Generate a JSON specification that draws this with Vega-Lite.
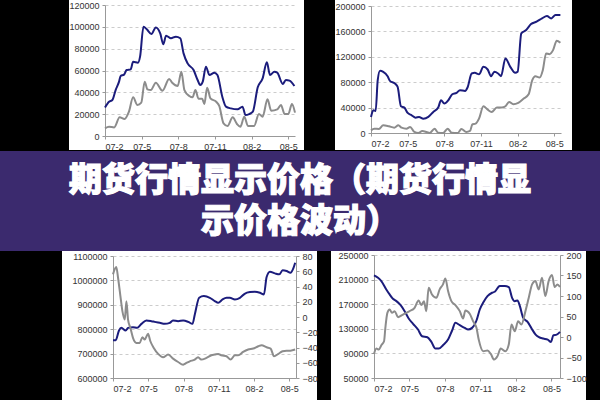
{
  "$schema": "https://vega.github.io/schema/vega-lite/v6.json",
  "background": "black",
  "padding": 0,
  "spacing": 0,
  "config": {
    "view": {"stroke": null},
    "axis": {"labelFont": "Liberation Sans", "labelFontSize": 9, "labelColor": "#333333", "domainColor": "#999999", "tickColor": "#999999", "tickSize": 3, "labelPadding": 3, "title": null, "gridColor": "#cccccc", "gridDash": [3, 3]},
    "line": {"interpolate": "monotone", "strokeWidth": 2}
  },
  "vconcat": [
    {
      "spacing": 0,
      "hconcat": [
        {"width": 68, "height": 150, "data": {"values": []}, "mark": "point", "encoding": {}},
        {
          "width": 235, "height": 150,
          "view": {"fill": "white", "stroke": null},
          "data": {"values": [
            {"s":"a","t":0,"v":26200},{"s":"a","t":0.33,"v":31400},{"s":"a","t":0.6,"v":33000},{"s":"a","t":0.87,"v":42100},{"s":"a","t":1.15,"v":49800},{"s":"a","t":1.28,"v":55000},{"s":"a","t":1.56,"v":56200},{"s":"a","t":1.77,"v":60400},{"s":"a","t":2.1,"v":61000},{"s":"a","t":2.3,"v":68000},{"s":"a","t":2.7,"v":67200},{"s":"a","t":2.87,"v":72700},{"s":"a","t":3.15,"v":100100},{"s":"a","t":3.42,"v":97700},{"s":"a","t":3.8,"v":93400},{"s":"a","t":4.16,"v":99500},{"s":"a","t":4.52,"v":94000},{"s":"a","t":4.77,"v":84000},{"s":"a","t":5.0,"v":91900},{"s":"a","t":5.4,"v":89500},{"s":"a","t":5.8,"v":91000},{"s":"a","t":6.16,"v":89500},{"s":"a","t":6.43,"v":75700},{"s":"a","t":6.76,"v":66500},{"s":"a","t":7.25,"v":60400},{"s":"a","t":7.58,"v":51300},{"s":"a","t":7.8,"v":46700},{"s":"a","t":8.0,"v":49800},{"s":"a","t":8.26,"v":63500},{"s":"a","t":8.54,"v":55900},{"s":"a","t":8.95,"v":58000},{"s":"a","t":9.2,"v":55900},{"s":"a","t":9.6,"v":36000},{"s":"a","t":9.9,"v":26900},{"s":"a","t":10.3,"v":25300},{"s":"a","t":10.85,"v":24400},{"s":"a","t":11.25,"v":26900},{"s":"a","t":11.5,"v":19200},{"s":"a","t":11.8,"v":20100},{"s":"a","t":12.1,"v":22300},{"s":"a","t":12.5,"v":44600},{"s":"a","t":12.9,"v":52800},{"s":"a","t":13.25,"v":67500},{"s":"a","t":13.5,"v":55900},{"s":"a","t":13.86,"v":58900},{"s":"a","t":14.1,"v":58000},{"s":"a","t":14.55,"v":47600},{"s":"a","t":14.8,"v":51300},{"s":"a","t":15.1,"v":50700},{"s":"a","t":15.5,"v":45800},
            {"s":"b","t":0,"v":7000},{"s":"b","t":0.33,"v":8500},{"s":"b","t":0.75,"v":7900},{"s":"b","t":1.2,"v":17100},{"s":"b","t":1.6,"v":15600},{"s":"b","t":1.96,"v":22300},{"s":"b","t":2.3,"v":35400},{"s":"b","t":2.65,"v":28400},{"s":"b","t":2.97,"v":30500},{"s":"b","t":3.25,"v":49800},{"s":"b","t":3.47,"v":42700},{"s":"b","t":3.75,"v":42100},{"s":"b","t":4.16,"v":48800},{"s":"b","t":4.7,"v":41500},{"s":"b","t":5.25,"v":52200},{"s":"b","t":5.5,"v":48800},{"s":"b","t":5.95,"v":45800},{"s":"b","t":6.25,"v":58900},{"s":"b","t":6.5,"v":42100},{"s":"b","t":6.9,"v":36600},{"s":"b","t":7.16,"v":35400},{"s":"b","t":7.4,"v":42100},{"s":"b","t":7.65,"v":34200},{"s":"b","t":7.95,"v":34200},{"s":"b","t":8.13,"v":29300},{"s":"b","t":8.36,"v":44300},{"s":"b","t":8.63,"v":34500},{"s":"b","t":9.1,"v":31400},{"s":"b","t":9.35,"v":27500},{"s":"b","t":9.7,"v":11600},{"s":"b","t":10.03,"v":9200},{"s":"b","t":10.45,"v":17100},{"s":"b","t":10.8,"v":11000},{"s":"b","t":11.08,"v":8500},{"s":"b","t":11.4,"v":17700},{"s":"b","t":11.7,"v":9200},{"s":"b","t":12.2,"v":9200},{"s":"b","t":12.6,"v":20100},{"s":"b","t":12.9,"v":17700},{"s":"b","t":13.3,"v":33600},{"s":"b","t":13.6,"v":23200},{"s":"b","t":14.1,"v":24400},{"s":"b","t":14.4,"v":28400},{"s":"b","t":14.7,"v":20100},{"s":"b","t":15.0,"v":20100},{"s":"b","t":15.3,"v":29300},{"s":"b","t":15.55,"v":21400}
          ]},
          "mark": {"type": "line"},
          "encoding": {
            "x": {"field": "t", "type": "quantitative", "scale": {"domain": [0, 15.55], "range": [36, 226], "nice": false, "zero": false}, "axis": {"offset": -14, "grid": false, "values": [0, 3, 6, 9, 12, 15], "labelExpr": "['07-2','07-5','07-8','07-11','08-2','08-5'][round(datum.value/3)]"}},
            "y": {"field": "v", "type": "quantitative", "scale": {"domain": [0, 120000], "range": [136, 5], "nice": false}, "axis": {"offset": -36, "grid": true, "format": "d", "values": [0, 20000, 40000, 60000, 80000, 100000, 120000]}},
            "color": {"field": "s", "type": "nominal", "scale": {"domain": ["a", "b"], "range": ["#1b1c7c", "#8c8c8c"]}, "legend": null}
          }
        },
        {"width": 30, "height": 150, "data": {"values": []}, "mark": "point", "encoding": {}},
        {
          "width": 237, "height": 150,
          "view": {"fill": "white", "stroke": null},
          "data": {"values": [
            {"s":"a","t":0,"v":25300},{"s":"a","t":0.19,"v":35800},{"s":"a","t":0.38,"v":34700},{"s":"a","t":0.55,"v":83200},{"s":"a","t":0.74,"v":97900},{"s":"a","t":1.0,"v":96300},{"s":"a","t":1.36,"v":89500},{"s":"a","t":1.55,"v":82100},{"s":"a","t":1.96,"v":77900},{"s":"a","t":2.18,"v":72600},{"s":"a","t":2.45,"v":42100},{"s":"a","t":2.73,"v":40000},{"s":"a","t":3.0,"v":31600},{"s":"a","t":3.33,"v":27900},{"s":"a","t":3.65,"v":24200},{"s":"a","t":3.93,"v":25300},{"s":"a","t":4.28,"v":22600},{"s":"a","t":4.69,"v":25300},{"s":"a","t":5.1,"v":33200},{"s":"a","t":5.5,"v":40000},{"s":"a","t":5.73,"v":51600},{"s":"a","t":6.0,"v":46300},{"s":"a","t":6.33,"v":51600},{"s":"a","t":6.65,"v":61000},{"s":"a","t":7.0,"v":63200},{"s":"a","t":7.28,"v":67400},{"s":"a","t":7.7,"v":66300},{"s":"a","t":7.9,"v":71600},{"s":"a","t":8.24,"v":93700},{"s":"a","t":8.5,"v":94700},{"s":"a","t":8.84,"v":92600},{"s":"a","t":9.2,"v":104200},{"s":"a","t":9.55,"v":100000},{"s":"a","t":9.82,"v":89500},{"s":"a","t":10.1,"v":96300},{"s":"a","t":10.4,"v":93700},{"s":"a","t":10.64,"v":89500},{"s":"a","t":11.0,"v":117400},{"s":"a","t":11.4,"v":104200},{"s":"a","t":11.8,"v":94700},{"s":"a","t":12.0,"v":96300},{"s":"a","t":12.3,"v":156800},{"s":"a","t":12.7,"v":162100},{"s":"a","t":13.1,"v":171600},{"s":"a","t":13.55,"v":175300},{"s":"a","t":14.0,"v":180500},{"s":"a","t":14.4,"v":184200},{"s":"a","t":14.75,"v":180500},{"s":"a","t":15.1,"v":185800},{"s":"a","t":15.5,"v":185800},
            {"s":"b","t":0,"v":4200},{"s":"b","t":0.27,"v":6800},{"s":"b","t":0.65,"v":6300},{"s":"b","t":1.0,"v":12100},{"s":"b","t":1.47,"v":10500},{"s":"b","t":1.9,"v":8400},{"s":"b","t":2.24,"v":12100},{"s":"b","t":2.5,"v":8400},{"s":"b","t":2.9,"v":6800},{"s":"b","t":3.2,"v":9500},{"s":"b","t":3.55,"v":1600},{"s":"b","t":3.87,"v":0},{"s":"b","t":4.2,"v":3200},{"s":"b","t":4.55,"v":1600},{"s":"b","t":4.8,"v":0},{"s":"b","t":5.2,"v":6800},{"s":"b","t":5.5,"v":500},{"s":"b","t":5.9,"v":0},{"s":"b","t":6.27,"v":6800},{"s":"b","t":6.6,"v":500},{"s":"b","t":7.1,"v":0},{"s":"b","t":7.4,"v":6300},{"s":"b","t":7.8,"v":1600},{"s":"b","t":8.1,"v":3200},{"s":"b","t":8.3,"v":13700},{"s":"b","t":8.56,"v":14700},{"s":"b","t":8.84,"v":22600},{"s":"b","t":9.2,"v":42100},{"s":"b","t":9.55,"v":36800},{"s":"b","t":9.87,"v":33200},{"s":"b","t":10.3,"v":40000},{"s":"b","t":10.7,"v":40000},{"s":"b","t":11.0,"v":42100},{"s":"b","t":11.3,"v":48900},{"s":"b","t":11.65,"v":45300},{"s":"b","t":12.05,"v":47400},{"s":"b","t":12.5,"v":54200},{"s":"b","t":12.9,"v":61000},{"s":"b","t":13.2,"v":83200},{"s":"b","t":13.45,"v":89500},{"s":"b","t":13.8,"v":87400},{"s":"b","t":14.06,"v":98900},{"s":"b","t":14.33,"v":125300},{"s":"b","t":14.6,"v":124200},{"s":"b","t":14.9,"v":130500},{"s":"b","t":15.2,"v":145300},{"s":"b","t":15.5,"v":142100}
          ]},
          "mark": {"type": "line"},
          "encoding": {
            "x": {"field": "t", "type": "quantitative", "scale": {"domain": [0, 15.55], "range": [36, 226], "nice": false, "zero": false}, "axis": {"offset": -17, "grid": false, "values": [0, 3, 6, 9, 12, 15], "labelExpr": "['07-2','07-5','07-8','07-11','08-2','08-5'][round(datum.value/3)]"}},
            "y": {"field": "v", "type": "quantitative", "scale": {"domain": [0, 200000], "range": [133, 6], "nice": false}, "axis": {"offset": -36, "grid": true, "format": "d", "values": [0, 40000, 80000, 120000, 160000, 200000]}},
            "color": {"field": "s", "type": "nominal", "scale": {"domain": ["a", "b"], "range": ["#1b1c7c", "#8c8c8c"]}, "legend": null}
          }
        }
      ]
    },
    {
      "width": 600, "height": 100,
      "view": {"fill": "#3b2a6e", "stroke": null},
      "data": {"values": [{"title": "期货行情显示价格（期货行情显\n示价格波动）"}]},
      "mark": {"type": "text", "font": "Noto Sans CJK SC", "fontSize": 33, "fontWeight": 900, "color": "white", "stroke": "white", "strokeWidth": 1.2, "lineBreak": "\n", "lineHeight": 41, "align": "center", "baseline": "middle", "dy": -20},
      "encoding": {"text": {"field": "title", "type": "nominal"}}
    },
    {
      "spacing": 0,
      "hconcat": [
        {"width": 62, "height": 150, "data": {"values": []}, "mark": "point", "encoding": {}},
        {
          "width": 255, "height": 150,
          "view": {"fill": "white", "stroke": null},
          "encoding": {
            "x": {"field": "t", "type": "quantitative", "scale": {"domain": [0, 15.57], "range": [51, 234], "nice": false, "zero": false}, "axis": {"offset": -23, "grid": false, "values": [0, 3, 6, 9, 12, 15], "labelExpr": "['07-2','07-5','07-8','07-11','08-2','08-5'][round(datum.value/3)]"}}
          },
          "layer": [
            {
              "data": {"values": [
                {"t":0,"v":755000},{"t":0.23,"v":755000},{"t":0.51,"v":794500},{"t":0.71,"v":805500},{"t":1.08,"v":794500},{"t":1.28,"v":805500},{"t":1.7,"v":808200},{"t":2.05,"v":805500},{"t":2.42,"v":821900},{"t":2.84,"v":835600},{"t":3.27,"v":832900},{"t":3.55,"v":830100},{"t":3.98,"v":826000},{"t":4.4,"v":821900},{"t":4.83,"v":826000},{"t":5.1,"v":835600},{"t":5.54,"v":832900},{"t":5.97,"v":835600},{"t":6.4,"v":830100},{"t":6.76,"v":821900},{"t":6.96,"v":860200},{"t":7.33,"v":928700},{"t":7.73,"v":935600},{"t":8.24,"v":928700},{"t":8.66,"v":915100},{"t":8.95,"v":908200},{"t":9.32,"v":921900},{"t":9.66,"v":928700},{"t":9.94,"v":928700},{"t":10.37,"v":921900},{"t":10.8,"v":928700},{"t":11.2,"v":945200},{"t":11.65,"v":952000},{"t":12.07,"v":953400},{"t":12.5,"v":949300},{"t":12.84,"v":942400},{"t":13.07,"v":1013700},{"t":13.35,"v":1035600},{"t":13.78,"v":1028800},{"t":14.15,"v":1024700},{"t":14.43,"v":1041100},{"t":14.77,"v":1038400},{"t":15.1,"v":1031500},{"t":15.34,"v":1049300},{"t":15.5,"v":1072600}
              ]},
              "mark": {"type": "line", "color": "#1b1c7c"},
              "encoding": {
                "y": {"field": "v", "type": "quantitative", "scale": {"domain": [600000, 1100000], "range": [127, 5], "nice": false, "zero": false}, "axis": {"offset": -51, "grid": true, "format": "d", "values": [600000, 700000, 800000, 900000, 1000000, 1100000]}}
              }
            },
            {
              "data": {"values": [
                {"t":0,"v":55.9},{"t":0.14,"v":62.5},{"t":0.28,"v":65.5},{"t":0.43,"v":51.5},{"t":0.63,"v":27.4},{"t":0.8,"v":7.7},{"t":1.0,"v":-3.3},{"t":1.14,"v":20.8},{"t":1.28,"v":-3.3},{"t":1.48,"v":-14.3},{"t":1.7,"v":-27.4},{"t":1.99,"v":-34},{"t":2.27,"v":-34},{"t":2.5,"v":-26.5},{"t":2.7,"v":-29.6},{"t":2.98,"v":-22.1},{"t":3.18,"v":-31.8},{"t":3.47,"v":-40.6},{"t":3.84,"v":-48.4},{"t":4.26,"v":-52.8},{"t":4.69,"v":-49.3},{"t":5.11,"v":-54.6},{"t":5.54,"v":-59},{"t":5.97,"v":-62.5},{"t":6.25,"v":-60.3},{"t":6.53,"v":-58.1},{"t":6.96,"v":-55.9},{"t":7.24,"v":-52.8},{"t":7.5,"v":-55.9},{"t":7.95,"v":-53.7},{"t":8.38,"v":-50.2},{"t":8.66,"v":-49.3},{"t":8.95,"v":-48.4},{"t":9.2,"v":-50.2},{"t":9.66,"v":-51.5},{"t":10.0,"v":-55.9},{"t":10.37,"v":-50.2},{"t":10.65,"v":-50.2},{"t":11.07,"v":-45.8},{"t":11.5,"v":-42.7},{"t":11.93,"v":-41.4},{"t":12.36,"v":-38.4},{"t":12.64,"v":-37},{"t":13.07,"v":-39.7},{"t":13.41,"v":-41.4},{"t":13.7,"v":-51.5},{"t":14.07,"v":-48.4},{"t":14.43,"v":-44.9},{"t":14.77,"v":-44.1},{"t":15.1,"v":-44.1},{"t":15.5,"v":-42.7}
              ]},
              "mark": {"type": "line", "color": "#8c8c8c"},
              "encoding": {
                "y": {"field": "v", "type": "quantitative", "scale": {"domain": [-80, 80], "range": [127, 5], "nice": false, "zero": false}, "axis": {"orient": "right", "offset": -21, "grid": false, "values": [-80, -60, -40, -20, 0, 20, 40, 60, 80]}}
              }
            }
          ],
          "resolve": {"scale": {"y": "independent"}}
        },
        {"width": 13, "height": 150, "data": {"values": []}, "mark": "point", "encoding": {}},
        {
          "width": 255, "height": 150,
          "view": {"fill": "white", "stroke": null},
          "encoding": {
            "x": {"field": "t", "type": "quantitative", "scale": {"domain": [0, 15.72], "range": [43, 229], "nice": false, "zero": false}, "axis": {"offset": -23, "grid": false, "values": [0, 3, 6, 9, 12, 15], "labelExpr": "['07-2','07-5','07-8','07-11','08-2','08-5'][round(datum.value/3)]"}}
          },
          "layer": [
            {
              "data": {"values": [
                {"t":0,"v":216850},{"t":0.34,"v":213000},{"t":0.62,"v":207600},{"t":1.04,"v":194000},{"t":1.32,"v":185900},{"t":1.6,"v":178800},{"t":1.89,"v":175000},{"t":2.25,"v":168500},{"t":2.59,"v":158700},{"t":2.93,"v":146700},{"t":3.3,"v":138000},{"t":3.72,"v":128800},{"t":4.06,"v":117900},{"t":4.51,"v":116300},{"t":4.85,"v":108700},{"t":5.19,"v":97800},{"t":5.47,"v":97800},{"t":5.83,"v":103300},{"t":6.26,"v":112500},{"t":6.6,"v":127200},{"t":6.88,"v":139700},{"t":7.25,"v":135900},{"t":7.67,"v":131500},{"t":7.95,"v":128800},{"t":8.29,"v":131500},{"t":8.66,"v":143500},{"t":8.94,"v":161400},{"t":9.22,"v":172300},{"t":9.59,"v":183100},{"t":9.98,"v":188600},{"t":10.2,"v":190200},{"t":10.63,"v":199500},{"t":11.05,"v":199500},{"t":11.39,"v":197800},{"t":11.67,"v":180400},{"t":11.9,"v":175000},{"t":12.13,"v":176100},{"t":12.33,"v":166800},{"t":12.61,"v":147800},{"t":12.98,"v":141300},{"t":13.32,"v":130400},{"t":13.66,"v":120600},{"t":13.94,"v":116300},{"t":14.31,"v":114100},{"t":14.68,"v":112500},{"t":14.96,"v":108700},{"t":15.16,"v":119600},{"t":15.44,"v":120600},{"t":15.72,"v":125000}
              ]},
              "mark": {"type": "line", "color": "#1b1c7c"},
              "encoding": {
                "y": {"field": "v", "type": "quantitative", "scale": {"domain": [50000, 250000], "range": [127, 4], "nice": false, "zero": false}, "axis": {"offset": -43, "grid": true, "format": "d", "values": [50000, 90000, 130000, 170000, 210000, 250000]}}
              }
            },
            {
              "data": {"values": [
                {"t":0,"v":-41.2},{"t":0.2,"v":-28.2},{"t":0.4,"v":-30.6},{"t":0.62,"v":-20},{"t":0.85,"v":-10.3},{"t":0.96,"v":22.3},{"t":1.13,"v":59},{"t":1.32,"v":67.2},{"t":1.52,"v":59},{"t":1.75,"v":63.1},{"t":2.03,"v":48.4},{"t":2.37,"v":53.3},{"t":2.73,"v":59},{"t":3.01,"v":63.1},{"t":3.43,"v":71.2},{"t":3.77,"v":89.2},{"t":4.0,"v":77.8},{"t":4.22,"v":87.5},{"t":4.42,"v":63.1},{"t":4.62,"v":120.1},{"t":4.9,"v":103.8},{"t":5.27,"v":95.7},{"t":5.55,"v":116.1},{"t":5.83,"v":128.3},{"t":6.03,"v":142.9},{"t":6.26,"v":112},{"t":6.54,"v":87.5},{"t":6.88,"v":77.8},{"t":7.25,"v":63.1},{"t":7.53,"v":45.2},{"t":7.72,"v":64.7},{"t":8.09,"v":56.6},{"t":8.37,"v":38.6},{"t":8.66,"v":22.3},{"t":8.85,"v":-6.2},{"t":9.22,"v":-34.7},{"t":9.59,"v":-33.1},{"t":9.87,"v":-41.2},{"t":10.15,"v":-55.1},{"t":10.43,"v":-47},{"t":10.71,"v":-28.2},{"t":11.11,"v":-34.7},{"t":11.39,"v":-18.4},{"t":11.62,"v":30.5},{"t":11.9,"v":14.2},{"t":12.18,"v":38.6},{"t":12.46,"v":30.5},{"t":12.8,"v":63.1},{"t":13.08,"v":95.7},{"t":13.36,"v":128.3},{"t":13.64,"v":136.4},{"t":13.92,"v":116.1},{"t":14.2,"v":144.6},{"t":14.48,"v":99.8},{"t":14.76,"v":136.4},{"t":15.04,"v":151.1},{"t":15.27,"v":121.8},{"t":15.5,"v":128.3},{"t":15.72,"v":121.8}
              ]},
              "mark": {"type": "line", "color": "#8c8c8c"},
              "encoding": {
                "y": {"field": "v", "type": "quantitative", "scale": {"domain": [-100, 200], "range": [127, 4], "nice": false, "zero": false}, "axis": {"orient": "right", "offset": -26, "grid": false, "values": [-100, -50, 0, 50, 100, 150, 200]}}
              }
            }
          ],
          "resolve": {"scale": {"y": "independent"}}
        }
      ]
    }
  ]
}
